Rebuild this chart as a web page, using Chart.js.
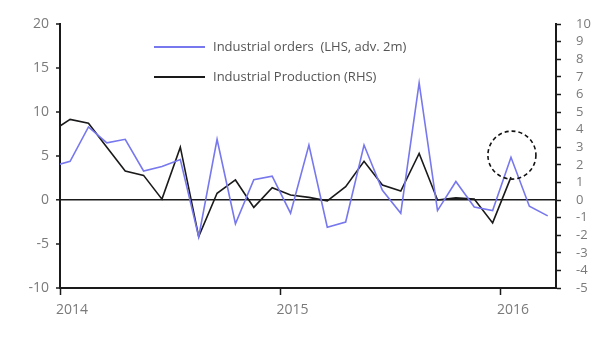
<!DOCTYPE html>
<html>
<head>
<meta charset="utf-8">
<script src="https://cdn.jsdelivr.net/npm/chart.js@4"></script>
<style>
html,body{margin:0;padding:0;background:#fff;}
#wrap{width:616px;height:346px;}
</style>
</head>
<body>
<div id="wrap"><canvas id="c" width="616" height="346"></canvas></div>
<script>
// ---- Data ----
const months = ['2013-12','2014-01','2014-02','2014-03','2014-04','2014-05','2014-06','2014-07','2014-08','2014-09','2014-10','2014-11','2014-12',
  '2015-01','2015-02','2015-03','2015-04','2015-05','2015-06','2015-07','2015-08','2015-09','2015-10','2015-11','2015-12',
  '2016-01','2016-02','2016-03'];
const orders = [3.8,4.4,8.3,6.5,6.9,3.3,3.8,4.6,-4.2,6.9,-2.7,2.3,2.7,-1.5,6.25,-3.1,-2.5,6.25,1.1,-1.5,13.3,-1.2,2.1,-0.8,-1.2,4.85,-0.7,-1.8];
const production = [3.9,4.58,4.36,3.0,1.65,1.4,0.05,3.0,-2.08,0.38,1.14,-0.42,0.7,0.28,0.15,-0.05,0.76,2.2,0.85,0.51,2.65,0.0,0.12,0.05,-1.3,1.3,null,null];
const seriesNames = ['Industrial orders  (LHS, adv. 2m)', 'Industrial Production (RHS)'];
const yearTickValues = [0, 12, 24];        // Jan 2014, Jan 2015, Jan 2016 (months since Jan 2014)
const yearLabels = ['2014', '2015', '2016'];
const leftTicks = [-10, -5, 0, 5, 10, 15, 20];
const rightTicks = [-5,-4,-3,-2,-1,0,1,2,3,4,5,6,7,8,9,10];
const highlight = {month: '2016-01', value: 5.1}; // circled point (LHS)

function monthIndex(m){ const [y,mo] = m.split('-').map(Number); return (y-2014)*12 + (mo-1) + 0.55; }

const ordersPts = months.map((m,i)=>({x: monthIndex(m), y: orders[i]}));
const prodPts = months.map((m,i)=>({x: monthIndex(m), y: production[i]})).filter(p=>p.y!==null);

const FONT = "'Open Sans', sans-serif";
const GREY = '#7a7a7a';

const legendPlugin = {
  id: 'customLegend',
  afterDraw(chart){
    const ctx = chart.ctx;
    const rows = [{y:47},{y:77}];
    chart.data.datasets.forEach((ds,i)=>{
      const y = rows[i].y;
      ctx.save();
      ctx.strokeStyle = ds.borderColor;
      ctx.lineWidth = 2;
      ctx.beginPath(); ctx.moveTo(154,y); ctx.lineTo(205,y); ctx.stroke();
      ctx.fillStyle = '#555';
      ctx.font = "13px " + FONT;
      ctx.textBaseline = 'middle';
      ctx.fillText(ds.label, 213, y);
      ctx.restore();
    });
  }
};

const circlePlugin = {
  id: 'circle',
  afterDatasetsDraw(chart){
    const ctx = chart.ctx;
    const cx = chart.scales.x.getPixelForValue(monthIndex(highlight.month) + 0.05);
    const cy = chart.scales.y.getPixelForValue(highlight.value);
    ctx.save();
    ctx.strokeStyle = '#111';
    ctx.lineWidth = 1.6;
    ctx.setLineDash([4,3]);
    ctx.beginPath(); ctx.arc(cx, cy, 24, 0, Math.PI*2); ctx.stroke();
    ctx.restore();
  }
};

new Chart(document.getElementById('c'), {
  type: 'line',
  data: {
    datasets: [
      {label: seriesNames[0], data: ordersPts, yAxisID: 'y', borderColor: '#7777ee', borderWidth: 1.6, pointRadius: 0, tension: 0},
      {label: seriesNames[1], data: prodPts, yAxisID: 'y1', borderColor: '#1a1a1a', borderWidth: 1.6, pointRadius: 0, tension: 0}
    ]
  },
  options: {
    responsive: false,
    animation: false,
    layout: {padding: {top: 24, left: 0, right: 0, bottom: 0}},
    plugins: {legend: {display: false}, tooltip: {enabled: false}},
    scales: {
      x: {
        type: 'linear', min: 0, max: 27,
        afterBuildTicks: s => { s.ticks = yearTickValues.map(v=>({value:v})); },
        afterFit: s => { s.height = 58; },
        ticks: {
          callback: (v) => yearLabels[yearTickValues.indexOf(v)],
          color: GREY, font: {family: FONT, size: 14}, padding: 7, labelOffset: 12, maxRotation: 0, autoSkip: false
        },
        grid: {drawOnChartArea: false, tickLength: 7, tickColor: '#1a1a1a', tickWidth: 1.5},
        border: {color: '#1a1a1a', width: 2}
      },
      y: {
        position: 'left', min: -10, max: 20,
        afterBuildTicks: s => { s.ticks = leftTicks.map(v=>({value:v})); },
        afterFit: s => { s.width = 60; },
        ticks: {color: GREY, font: {family: FONT, size: 14}, padding: 7, autoSkip: false},
        grid: {
          drawOnChartArea: true, tickLength: 4, tickColor: '#1a1a1a', tickWidth: 1.5,
          color: c => (c.tick && c.tick.value === 0) ? '#1a1a1a' : 'rgba(0,0,0,0)',
          lineWidth: c => (c.tick && c.tick.value === 0) ? 1.6 : 0
        },
        border: {color: '#1a1a1a', width: 2}
      },
      y1: {
        position: 'right', min: -5, max: 10,
        afterBuildTicks: s => { s.ticks = rightTicks.map(v=>({value:v})); },
        afterFit: s => { s.width = 60; },
        ticks: {color: GREY, font: {family: FONT, size: 13}, padding: 15, autoSkip: false},
        grid: {drawOnChartArea: false, tickLength: 5, tickColor: '#1a1a1a', tickWidth: 1.5},
        border: {color: '#1a1a1a', width: 2}
      }
    }
  },
  plugins: [circlePlugin, legendPlugin]
});
</script>
</body>
</html>
